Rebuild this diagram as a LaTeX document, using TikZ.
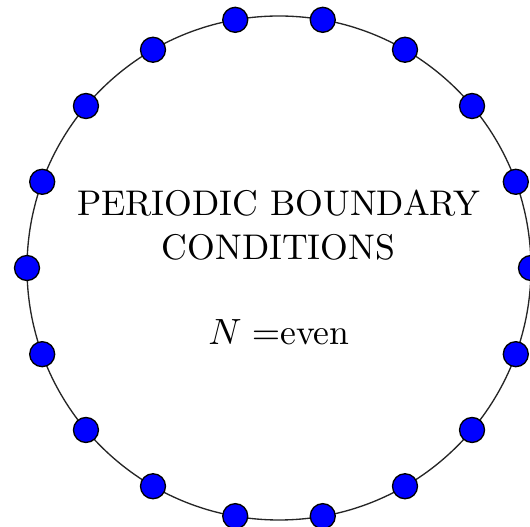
\documentclass[tikz,border=0pt]{standalone}
\usetikzlibrary{calc}
\begin{document}
\begin{tikzpicture}[x=0.3pt,y=-0.3pt,
  site/.style={circle,draw=black,fill=blue,line width=0.4pt,minimum size=7.5pt,inner sep=0pt},
  ring/.style={draw=black!85,line width=0.4pt},
  label/.style={font=\fontsize{10.7}{13.2}\selectfont,align=center,inner sep=0pt}]
\useasboundingbox (0,0) rectangle (530,527);
\coordinate (c) at (279,268);
\draw[ring] (c) circle[radius=75.6pt];
\foreach \k in {0,...,17}{
  \node[site] (p\k) at ($(c)+({\k*20}:75.6pt)$) {};
}
\node[label,anchor=base] (t1) at (278.5,216) {PERIODIC BOUNDARY};
\node[label,anchor=base] (t2) at (278.5,260) {CONDITIONS};
\node[label,anchor=base] (t3) at (279,345) {$N =$even};
\end{tikzpicture}
\end{document}
